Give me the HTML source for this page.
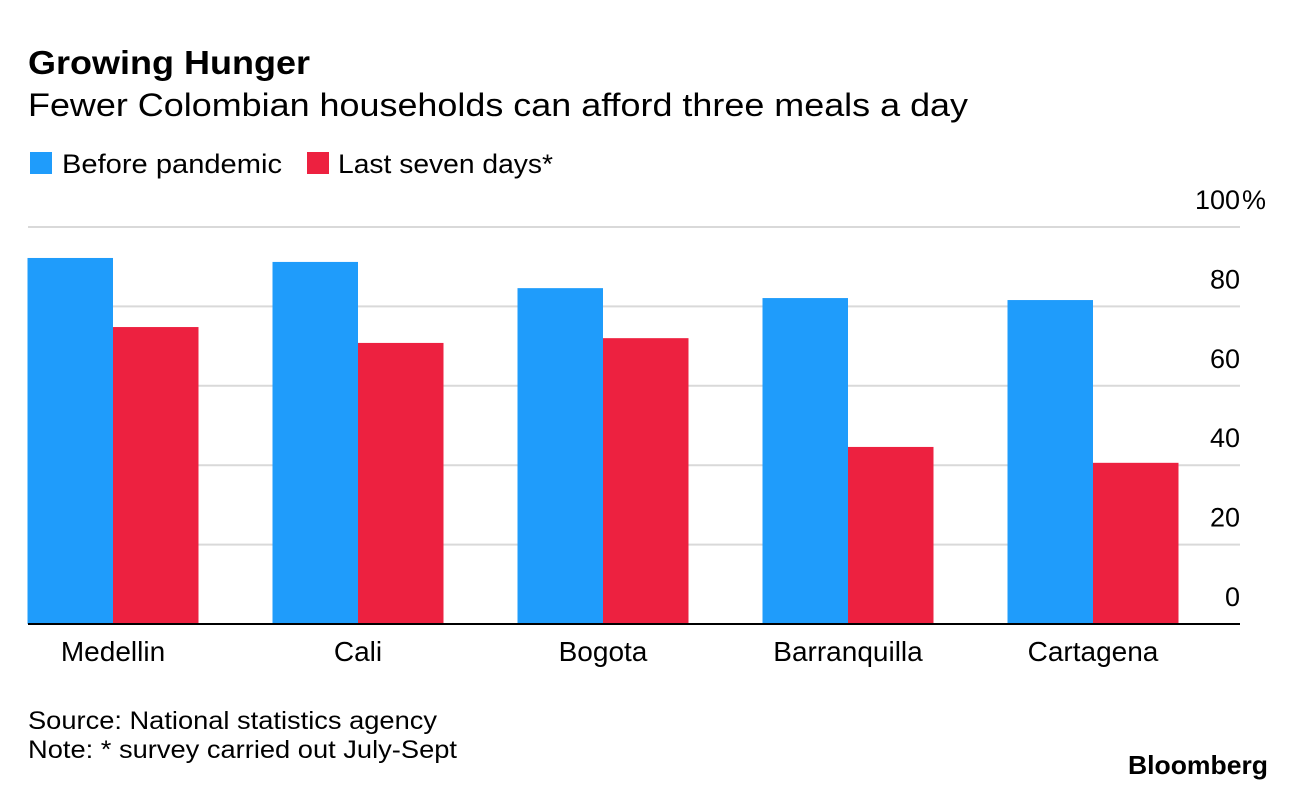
<!DOCTYPE html>
<html><head><meta charset="utf-8"><style>
body{margin:0;background:#fff;width:1296px;height:790px;overflow:hidden;font-family:"Liberation Sans",Arial,sans-serif;color:#000}
</style></head><body>
<svg width="1296" height="790" xmlns="http://www.w3.org/2000/svg" font-family="Liberation Sans, Arial, sans-serif">
<text x="28" y="74" font-size="33" font-weight="bold" textLength="282" lengthAdjust="spacingAndGlyphs">Growing Hunger</text>
<text x="28" y="116" font-size="32" textLength="940" lengthAdjust="spacingAndGlyphs">Fewer Colombian households can afford three meals a day</text>
<g>
<rect x="30" y="152" width="22" height="22" fill="#1f9cfb"/>
<text x="62" y="173" font-size="27" textLength="220" lengthAdjust="spacingAndGlyphs">Before pandemic</text>
<rect x="307" y="152" width="22" height="22" fill="#ed2140"/>
<text x="338" y="173" font-size="27" textLength="215" lengthAdjust="spacingAndGlyphs">Last seven days*</text>
</g>
<g id="grid"></g><g id="bars"></g><g id="labels"></g>
<text x="28" y="729" font-size="25" textLength="409" lengthAdjust="spacingAndGlyphs">Source: National statistics agency</text>
<text x="28" y="758" font-size="25" textLength="429" lengthAdjust="spacingAndGlyphs">Note: * survey carried out July-Sept</text>
<text x="1128" y="774" font-size="26" font-weight="bold" textLength="140" lengthAdjust="spacingAndGlyphs">Bloomberg</text>
</svg>
<script>
const categories=["Medellin","Cali","Bogota","Barranquilla","Cartagena"];
const beforeValues=[92.2,91.2,84.6,82.1,81.6];
const lastValues=[74.8,70.8,72,44.6,40.6];
const tickValues=[0,20,40,60,80,100];
const tickLabels=["0","20","40","60","80","100"];
const NS="http://www.w3.org/2000/svg";
const y=v=>624-v*3.97;
const cx=i=>113+245*i;
const bw=85.5;
function mk(t,a,p){const e=document.createElementNS(NS,t);for(const k in a)e.setAttribute(k,a[k]);p.appendChild(e);return e;}
const g=document.getElementById('grid'),b=document.getElementById('bars'),l=document.getElementById('labels');
tickValues.forEach((v,i)=>{
 if(v>0){const ln=mk('line',{x1:28,x2:1240,y1:y(v),y2:y(v),stroke:'#d9d9d9','stroke-width':2},g);
 
 }
 const t=mk('text',{x:1240,y:y(v)-18,'font-size':27,'text-anchor':'end',fill:'#000'},g);
 t.textContent=tickLabels[i];
 
 
 if(v===100){const p=mk('text',{x:1242,y:y(v)-18,'font-size':27,fill:'#000'},g);
 p.textContent='%';
 
 }
});
categories.forEach((c,i)=>{
 const r1=mk('rect',{x:cx(i)-bw,y:y(beforeValues[i]),width:bw,height:624-y(beforeValues[i]),fill:'#1f9cfb'},b);
 
 
 const r2=mk('rect',{x:cx(i),y:y(lastValues[i]),width:bw,height:624-y(lastValues[i]),fill:'#ed2140'},b);
 
 
 const t=mk('text',{x:cx(i),y:661,'font-size':28,'text-anchor':'middle'},l);
 t.textContent=c;
 
 
});
const ax=mk('line',{x1:28,x2:1240,y1:624,y2:624,stroke:'#000','stroke-width':2},l);


</script>
</body></html>
